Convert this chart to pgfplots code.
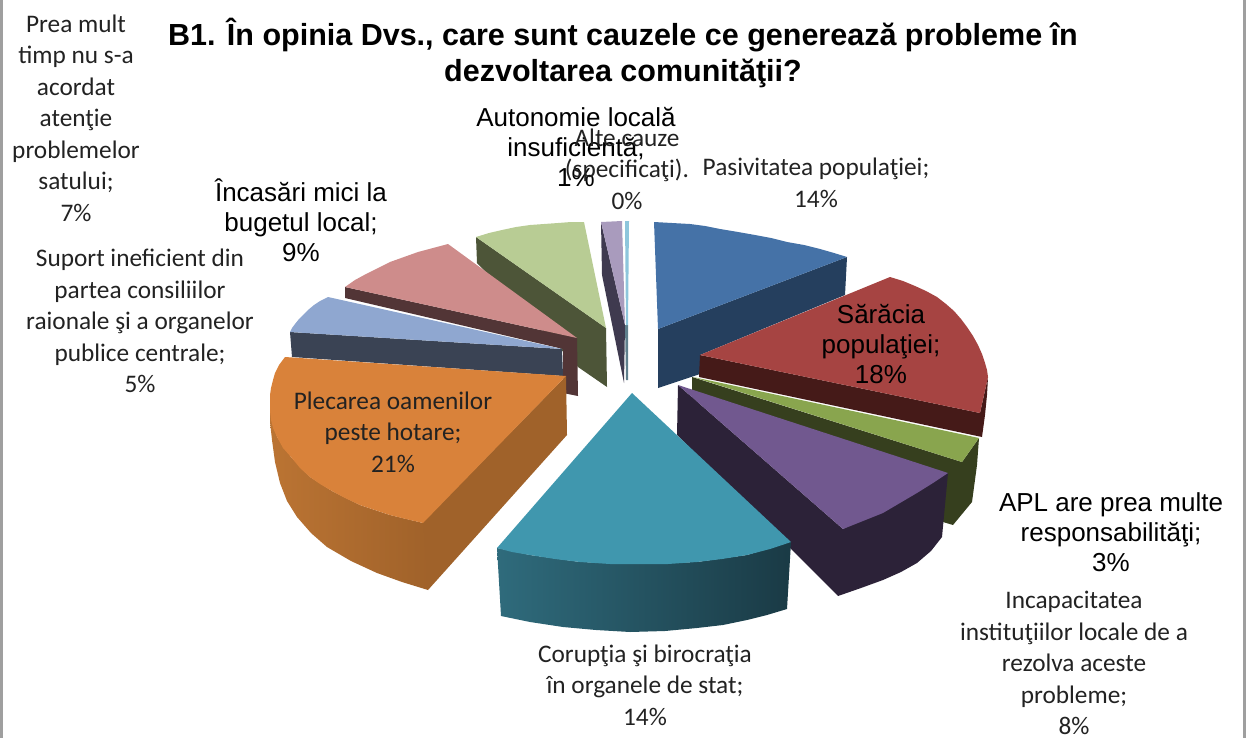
\documentclass[border=0pt]{standalone}
\usepackage{fontspec}
\usepackage{pgfplots}
\pgfplotsset{compat=1.18}
\setmainfont{Liberation Sans}
\newfontfamily\calfont{Carlito}
\definecolor{c1}{HTML}{4572A7}\definecolor{c1s}{HTML}{253F5E}
\definecolor{c2}{HTML}{A64442}\definecolor{c2s}{HTML}{451A18}
\definecolor{c3}{HTML}{89A54E}\definecolor{c3s}{HTML}{363F1E}
\definecolor{c4}{HTML}{71588F}\definecolor{c4s}{HTML}{2C2238}
\definecolor{c5}{HTML}{4097AE}\definecolor{c5a}{HTML}{2F6B7C}\definecolor{c5b}{HTML}{1A3A45}
\definecolor{c6}{HTML}{D9823A}\definecolor{c6a}{HTML}{BB7433}\definecolor{c6b}{HTML}{A0622A}
\definecolor{c7}{HTML}{8FA7D0}\definecolor{c7s}{HTML}{3A4354}
\definecolor{c8}{HTML}{CE8C8B}\definecolor{c8s}{HTML}{523536}
\definecolor{c9}{HTML}{B8CC94}\definecolor{c9s}{HTML}{4D5538}
\definecolor{c10}{HTML}{A99BBD}\definecolor{c10s}{HTML}{3F3A4F}
\definecolor{c11}{HTML}{8EC6DC}\definecolor{c11s}{HTML}{5F7F8C}
\definecolor{lab}{HTML}{222222}
\tikzset{
    ar/.style={font=\fontsize{26}{30}\selectfont, align=center, text=black, inner sep=0pt},
    ca/.style={font=\calfont\fontsize{25.3}{31.5}\selectfont, align=center, text=lab, inner sep=0pt},
}
\begin{document}
\begin{tikzpicture}
\begin{axis}[
    scale only axis,
    width=1246pt, height=738pt,
    xmin=0, xmax=1246, ymin=0, ymax=738,
    y dir=reverse,
    hide axis,
    clip=false,
    no markers,
    every axis plot/.append style={draw=none},
]
% borders
\addplot[fill=gray!75] coordinates {(0,0) (3,0) (3,738) (0,738)} --cycle;
\addplot[fill=gray!75] coordinates {(1243,0) (1246,0) (1246,738) (1243,738)} --cycle;

% blue 14%
\addplot[fill=c1s] coordinates {(658,329) (847,257) (845,295) (700,355) (700,374) (658,388)} --cycle;
\addplot[fill=c1] coordinates {(654,222) (672,223) (690,224) (705,226) (720,229) (738,232) (755,235) (771,238) (787,242) (804,245) (820,249) (834,253) (847,257) (658,329)} --cycle;
% other 0% and autonomy 1%
\addplot[fill=c10s] coordinates {(601,222) (602,275) (624,383) (625,325)} --cycle;
\addplot[fill=c10] coordinates {(601,222) (622,221) (625,325)} --cycle;
\addplot[fill=c11s] coordinates {(625,325) (628,325) (628,380) (626,380)} --cycle;
\addplot[fill=c11] coordinates {(625,221) (629,221) (628,325) (626,325)} --cycle;
% prea mult timp 7%
\addplot[fill=c9s] coordinates {(476,237) (477,263) (578,367) (607,387) (606,328)} --cycle;
\addplot[fill=c9] coordinates {(476,237) (489,233) (502,230) (516,227) (530,225) (544,224) (558,223) (571,222) (584,222) (606,328)} --cycle;
% incasari 9%
\addplot[fill=c8s] coordinates {(345,287) (345,298) (563,349) (563,393) (578,396) (577,338)} --cycle;
\addplot[fill=c8] coordinates {(448,244) (433,248) (418,252) (404,257) (390,262) (378,268) (366,274) (355,280) (345,287) (577,338)} --cycle;
% suport 5%
\addplot[fill=c7s] coordinates {(290,332) (292,357) (563,376) (562,349)} --cycle;
\addplot[fill=c7] coordinates {(328,297) (320,301) (314,305) (308,310) (303,315) (299,319) (295,324) (292,328) (290,332) (562,349)} --cycle;
% plecarea 21%
\addplot[fill=c6b] coordinates {(566,376) (567,435) (428,590) (424,586) (420,525)} --cycle;
\addplot[left color=c6a, right color=c6b] coordinates {(270,403) (270,422) (272,440) (275,462) (280,483) (287,501) (297,517) (311,533) (327,547) (351,561) (377,573) (402,582) (428,590) (423,523) (390,515) (360,505) (332,491) (310,477) (291,457) (277,437)} --cycle;
\addplot[fill=c6] coordinates {(285,357) (566,376) (423,523) (406,519) (390,515) (375,510) (360,505) (345,498) (332,491) (320,484) (310,477) (300,468) (291,457) (283,448) (277,437) (273,428) (271,420) (270,411) (270,403) (270,395) (271,388) (273,380) (275,373) (279,365)} --cycle;
% saracia 18%
\addplot[fill=c2s] coordinates {(700,355) (980,413) (988,377) (987,395) (985,415) (982,437) (699,377)} --cycle;
\addplot[fill=c2] coordinates {(700,355) (890,277) (903,281) (915,286) (926,291) (937,297) (946,304) (954,311) (961,319) (967,327) (973,336) (978,345) (982,354) (985,363) (987,370) (988,377) (980,413)} --cycle;
% APL 3%
\addplot[fill=c3s] coordinates {(692,377) (962,462) (979,438) (977,465) (972,502) (953,525) (943,522) (945,485) (692,400)} --cycle;
\addplot[fill=c3] coordinates {(693,377) (979,438) (962,462)} --cycle;
% incapacitatea 8%
\addplot[fill=c4s] coordinates {(678,385) (677,435) (838,596) (861,588) (883,580) (901,572) (917,563) (931,551) (942,537) (948,473) (843,529)} --cycle;
\addplot[fill=c4] coordinates {(678,385) (948,473) (933,483) (917,493) (900,503) (883,513) (863,521) (843,529)} --cycle;
% coruptia 14%
\addplot[left color=c5a, right color=c5b] coordinates {(497,548) (501,616) (530,622) (563,627) (596,630) (630,632) (665,631) (697,628) (723,625) (747,620) (767,615) (787,609) (791,542) (747,555) (697,562) (640,564) (580,562) (530,555)} --cycle;
\addplot[fill=c5] coordinates {(632,393) (791,542) (770,549) (747,555) (722,559) (697,562) (668,564) (640,564) (610,564) (580,562) (555,559) (530,555) (512,552) (497,548)} --cycle;

% title
\node[font=\bfseries\fontsize{30.5}{36}\selectfont, align=center, text=black, inner sep=0pt] at (axis cs:623,53) {B1. În opinia Dvs., care sunt cauzele ce generează probleme în\\dezvoltarea comunităţii?};

% data labels
\node[ca] at (axis cs:76,118) {Prea mult\\timp nu s-a\\acordat\\atenţie\\problemelor\\satului;\\7\%};
\node[ar] at (axis cs:301,220) {Încasări mici la\\bugetul local;\\9\%};
\node[ca] at (axis cs:140,321) {Suport ineficient din\\partea consiliilor\\raionale şi a organelor\\publice centrale;\\5\%};
\node[ar] at (axis cs:576,147) {Autonomie locală\\insuficientă;\\1\%};
\node[ca] at (axis cs:627,169) {Alte cauze\\(specificaţi).\\0\%};
\node[ca] at (axis cs:816,183) {Pasivitatea populaţiei;\\14\%};
\node[ar] at (axis cs:881,344) {Sărăcia\\populaţiei;\\18\%};
\node[ca] at (axis cs:393,432) {Plecarea oamenilor\\peste hotare;\\21\%};
\node[ar] at (axis cs:1111,532) {APL are prea multe\\responsabilităţi;\\3\%};
\node[ca] at (axis cs:1074,663) {Incapacitatea\\instituţiilor locale de a\\rezolva aceste\\probleme;\\8\%};
\node[ca] at (axis cs:645,685) {Corupţia şi birocraţia\\în organele de stat;\\14\%};
\end{axis}
\end{tikzpicture}
\end{document}
